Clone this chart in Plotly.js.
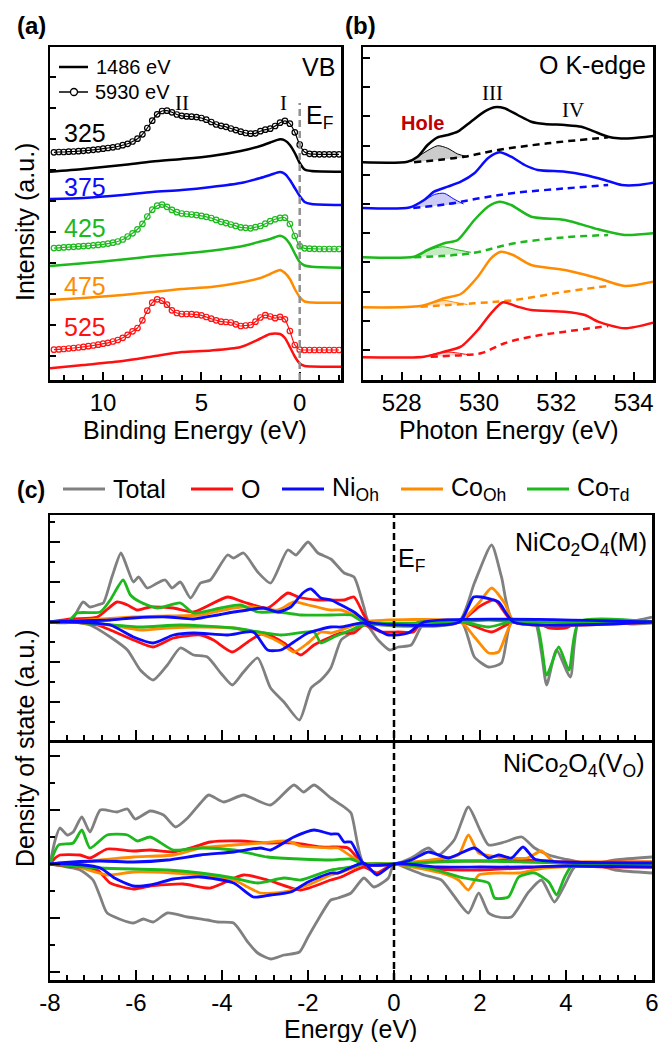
<!DOCTYPE html>
<html><head><meta charset="utf-8">
<script src="https://cdn.plot.ly/plotly-3.0.1.min.js"></script>
<style>html,body{margin:0;padding:0;background:#fff;}#chart{width:659px;height:1042px;}</style>
</head><body><div id="chart"></div>
<script>
// ---------- Panel (a): valence band spectra ----------
const aE_1486 = [12.7, 11, 9, 7.5, 6, 4.5, 3, 2, 1.5, 1.0, 0.75, 0.5, 0.25, 0, -0.25, -0.6, -2.1];
const aI_325_1486 = [208.3, 211, 215, 218.5, 221, 224, 229, 234, 237.5, 240.7, 239.5, 235, 227, 217, 210.5, 209, 208.3];
const aI_375_1486 = [181, 182, 185, 188, 190, 193, 197, 202, 205, 208, 206, 200, 192, 184, 178, 176, 175];
const aI_425_1486 = [114, 116.7, 120.5, 123.7, 126.3, 129.3, 133.5, 138.5, 141, 144.3, 142, 136, 126.5, 118, 114.5, 113.3, 112.3];
const aI_475_1486 = [80, 82, 85, 88, 91, 93, 97.5, 102, 106, 110, 107, 101, 91, 83, 78.5, 77.5, 77.3];
const aI_525_1486 = [11.7, 15, 19, 23.5, 28, 29.5, 33, 41.5, 46, 46, 42, 33, 23.5, 16.5, 14, 13.5, 13.3];

const aE_5930 = [12.5,12.25,12,11.75,11.5,11.25,11,10.75,10.5,10.25,10,9.75,9.5,9.25,9,8.75,8.5,8.25,8,7.75,7.5,7.25,7,6.75,6.5,6.25,6,5.75,5.5,5.25,5,4.75,4.5,4.25,4,3.75,3.5,3.25,3,2.75,2.5,2.25,2,1.75,1.5,1.25,1,0.75,0.5,0.25,0,-0.25,-0.5,-0.75,-1,-1.25,-1.5,-1.75,-2];
const aI_325_5930 = [227.7,228,228,228.3,228.5,228.8,229.2,229.7,230.2,230.7,231.3,232,232.7,233.5,234.8,236.2,238.5,241.3,245.7,252,259.3,265.7,269,269.3,267.7,265.5,264.2,263.6,263.3,262.9,262,260.3,258,255.5,254.2,253.2,251.5,249.9,248.3,247,246.3,246.7,248.8,250.3,251.3,254,257.3,259.2,256.3,247.7,235.3,228,226.2,225.8,225.7,225.7,225.7,225.7,225.7];
const aI_425_5930 = [131.9,132.2,132.6,132.9,133.2,133.6,133.9,134.2,134.7,135.1,135.7,136.4,137.3,138.5,140.5,143.5,146.7,150.7,156.1,163.5,170.3,174.3,175.4,173.2,170.1,167.8,166.5,166,165.5,164.9,164.1,163.2,162,160.1,158.2,156.9,155.5,154.1,152.6,152.2,151.7,152.8,154,156.3,158.8,160.7,162.1,162.3,156,144,133.8,131.7,131.3,131.2,131,131,131,131,131];
const aI_525_5930 = [30.3,30.6,31,31.5,32,32.5,33.1,33.8,34.5,35.3,36.3,37.2,38.5,40,42.2,45.2,48.7,52,59.7,69.3,77.3,80.7,79.3,75.3,69.7,67,66,66,65.9,65.3,64.7,63,61.3,59.7,58.3,58,57.5,55.7,54,54.5,55,58.3,62.5,64.8,63.5,61.8,63.2,60.7,49,35,30.3,30,30,30,30,30,30,30,30];
const aTemps = ['325', '375', '425', '475', '525'];

// ---------- Panel (b): O K-edge ----------
const bE_black = [527.0, 528.15, 528.41, 528.67, 528.93, 529.19, 529.45, 529.79, 530.14, 530.40, 530.66, 531.0, 531.35, 531.70, 532.22, 532.65, 532.99, 533.34, 533.60, 533.95, 534.51];
const bI_black = [217.7, 218.3, 223.3, 235, 242.7, 245, 248.3, 258.3, 268.3, 272.7, 271.7, 265, 258.3, 256, 255, 253.3, 248.3, 243.3, 241.7, 241.7, 244];
const bE_black_bg = [528.32, 529.62, 530.49, 531.78, 533.34];
const bI_black_bg = [217.7, 223.3, 230, 236.7, 242.7];
const bE_black_hole = [528.23, 528.58, 528.93, 529.19, 529.45, 529.71];
const bI_black_hole = [218.3, 227.3, 234.3, 231.7, 226, 223.3];
const bI_black_hole_base = [217.8, 218.8, 220, 221, 222, 223.3];

const bE_blue = [527.0, 528.2, 528.58, 528.84, 529.19, 529.53, 529.88, 530.23, 530.53, 530.83, 531.18, 531.52, 532.22, 532.74, 533.25, 533.69, 534.12, 534.51];
const bI_blue = [172, 172.5, 180, 188.3, 193.3, 198.3, 206.7, 221.7, 227.7, 223.3, 215, 210, 208.3, 205, 200, 195, 195, 197.3];
const bE_blue_bg = [528.3, 529.2, 530.05, 530.9, 532.2, 533.34];
const bI_blue_bg = [172, 176, 182, 187, 191.5, 195];
const bE_blue_hole = [528.25, 528.6, 528.85, 529.1, 529.35, 529.6];
const bI_blue_hole = [173, 180, 185.5, 186.7, 181, 176];
const bI_blue_hole_base = [172.5, 173.3, 174, 174.8, 175.5, 176.3];

const bE_green = [527.0, 528.32, 528.67, 529.10, 529.45, 529.88, 530.23, 530.53, 530.83, 531.35, 532.22, 533.08, 533.77, 534.51];
const bI_green = [122.7, 123.3, 130, 136.7, 140, 160, 173.3, 178.3, 175, 163.3, 160, 150.7, 145, 146.7];
const bE_green_bg = [528.32, 529.79, 530.92, 532.22, 533.34];
const bI_green_bg = [122.7, 126.7, 136.7, 142.7, 145];
const bE_green_hole = [528.4, 528.7, 529.06, 529.4, 529.79];
const bI_green_hole = [123.3, 130, 133.3, 130.5, 127.7];
const bI_green_hole_base = [123, 124, 125, 126, 126.7];

const bE_orange = [527.0, 528.49, 529.10, 529.53, 529.97, 530.31, 530.57, 530.88, 531.35, 532.22, 533.08, 533.77, 534.51];
const bI_orange = [72.7, 74, 81.7, 86, 103.3, 121.7, 128.3, 125, 115, 110, 101.7, 94, 98.3];
const bE_orange_bg = [528.49, 529.88, 530.92, 532.22, 533.34];
const bI_orange_bg = [73.3, 76.7, 80, 88.3, 94];
const bE_orange_hole = [528.5, 528.8, 529.1, 529.4, 529.7];
const bI_orange_hole = [74, 77, 79.5, 77.5, 75.5];
const bI_orange_hole_base = [73.5, 74.2, 74.8, 75.5, 76];

const bE_red = [527.0, 528.58, 529.1, 529.53, 529.97, 530.31, 530.62, 531.0, 531.35, 532.22, 532.74, 533.08, 533.77, 534.51];
const bI_red = [22.7, 23.3, 28.3, 33.3, 50, 66.7, 77.7, 73.3, 70, 68.3, 65, 58.3, 51.7, 57.3];
const bE_red_bg = [528.75, 529.62, 530.05, 530.66, 531.35, 532.22, 533.34];
const bI_red_bg = [23.3, 25, 26.7, 36.7, 43.3, 48.3, 54];
const bE_red_hole = [528.6, 528.9, 529.15, 529.45, 529.75];
const bI_red_hole = [23.5, 26.5, 28, 27, 25];
const bI_red_hole_base = [23.3, 23.6, 24, 24.8, 25.2];

// ---------- Panel (c): DOS, NiCo2O4(M) ----------
const mTotUpE = [-8,-7.53,-7.23,-7.07,-6.9,-6.76,-6.56,-6.35,-6.21,-6.06,-5.94,-5.74,-5.5,-5.32,-5.16,-4.97,-4.73,-4.5,-4.27,-3.87,-3.73,-3.5,-3.17,-2.87,-2.47,-2.28,-2.0,-1.77,-1.47,-1.16,-0.93,-0.7,-0.58,1.5,1.87,2.27,2.5,2.78,4.6,5.1,5.5,5.8,6.0];
const mTotUp  = [0,0,2.0,1.5,1.7,1.9,4.5,6.9,5.5,4.0,4.5,3.4,3.9,4.2,3.4,4.0,2.4,3.9,4.2,6.7,6.4,6.9,5.0,3.9,7.2,6.7,8.0,6.9,6.3,4.9,4.5,1.5,0,0,3.9,7.7,4.5,0,0,0.2,0.1,0.3,0.5];
const mTotDnE = [-8,-7.5,-7.07,-6.6,-6.2,-5.9,-5.6,-5.27,-4.97,-4.66,-4.34,-4.03,-3.76,-3.5,-3.17,-2.87,-2.56,-2.2,-1.93,-1.7,-1.47,-1.23,-1.0,-0.7,-0.37,-0.1,0.1,0.4,0.7,1.57,1.87,2.2,2.5,2.73,3.27,3.43,3.55,3.78,4.1,4.3,5.0,5.5,6.0];
const mTotDn  = [0,0,-0.3,-1.5,-2.8,-4.8,-5.8,-4.3,-2.6,-3.3,-3.5,-5.1,-6.3,-5.0,-3.6,-6.6,-8.0,-9.8,-6.6,-5.8,-4.6,-1.8,-1.1,0,-1.8,-2.8,-2.5,-2.3,-0.1,0,-3.5,-4.5,-4.1,0,0,-3.1,-6.3,-2.8,-5.5,0,0,-0.2,-0.1];
const mOUpE = [-8,-7.5,-6.9,-6.44,-6.2,-5.97,-5.67,-5.13,-4.66,-3.87,-3.5,-2.94,-2.47,-2.23,-1.77,-1.47,-1.16,-0.93,-0.7,-0.58,1.52,1.97,2.34,2.78,6.0];
const mOUp  = [0,0.3,0.5,2.0,1.7,1.2,1.5,1.4,1.0,2.5,2.0,1.4,2.9,2.5,2.2,2.2,2.2,2.5,0.7,0,0,1.5,2.2,0,0];
const mODnE = [-8,-7.5,-6.9,-6.6,-6.06,-5.6,-5.13,-4.5,-4.2,-3.76,-3.4,-3.03,-2.56,-2.17,-1.86,-1.47,-1.23,-0.93,-0.7,-0.3,0.1,0.45,0.65,1.6,2.27,2.75,3.3,3.6,4.0,4.3,6.0];
const mODn  = [0,0,-0.3,-0.8,-1.8,-2.5,-1.6,-1.3,-1.8,-3.0,-2.0,-1.1,-2.1,-3.3,-2.3,-1.5,-1.1,-1.1,-0.3,-1.0,-1.0,-1.0,0,0,-1.0,0,0,-0.6,-0.6,0,0];
const mNiUpE = [-8,-7.5,-6.6,-6.06,-5.27,-4.66,-4.1,-3.73,-3.4,-3.03,-2.7,-2.4,-2.12,-1.93,-1.7,-1.47,-1.23,-0.93,-0.6,1.52,1.85,2.03,2.43,2.78,6.0];
const mNiUp  = [0,0.1,0.2,0.4,0.5,0.3,0.7,1.0,1.2,1.4,1.0,1.5,2.9,3.3,2.4,2.2,1.7,1.0,0,0,2.5,2.5,2.0,0,0];
const mNiDnE = [-8,-7.5,-6.6,-6.06,-5.6,-5.13,-4.66,-3.87,-3.27,-2.94,-2.63,-2.33,-2.0,-1.47,-1.23,-0.7,-0.13,0.33,0.7,6.0];
const mNiDn  = [0,0,-0.3,-1.5,-2.1,-1.3,-1.1,-1.3,-1.0,-2.8,-2.8,-2.0,-1.1,-0.5,-0.5,-0.1,-1.3,-1.1,0,0];
const mCoOhUpE = [-8,-7.5,-6.06,-5.27,-4.5,-3.73,-3.27,-2.7,-2.33,-2.0,-1.7,-1.47,-1.23,-0.93,-0.6,1.5,1.97,2.27,2.57,2.8,6.0];
const mCoOhUp  = [0,0.1,0.5,0.6,0.7,1.4,1.5,1.2,2.0,1.7,1.4,1.2,1.2,0.7,0,0,1.9,3.4,1.9,0,0];
const mCoOhDnE = [-8,-7.5,-6.6,-5.9,-5.27,-4.5,-3.73,-3.03,-2.63,-2.33,-2.0,-1.7,-1.47,-1.23,-0.7,1.55,1.87,2.2,2.43,2.75,3.3,3.6,4.0,4.3,6.0];
const mCoOhDn  = [0,0,-0.3,-0.8,-0.6,-0.5,-0.6,-1.3,-2.1,-3.0,-2.1,-1.0,-1.1,-0.8,0,0,-1.5,-3.1,-3.0,0,0,-0.3,-0.3,0,0];
const mCoTdUpE = [-8,-7.6,-7.37,-6.83,-6.6,-6.3,-6.13,-5.9,-5.5,-4.97,-4.66,-4.03,-3.57,-3.17,-2.7,-2.17,-1.47,-1.0,-0.7,1.5,2.2,2.8,6.0];
const mCoTdUp  = [0,0,0.9,1.0,2.2,4.2,2.7,2.0,1.4,1.9,0.9,1.4,1.7,1.0,1.0,0.7,0.7,0.7,0,0,0.2,0,0];
const mCoTdDnE = [-8,-7.6,-6.83,-5.9,-4.97,-3.73,-2.63,-1.86,-1.7,-1.4,-1.0,-0.7,0.4,0.6,1.6,2.2,2.7,3.3,3.55,3.83,4.07,4.3,6.0];
const mCoTdDn  = [0,0,-0.2,-0.5,-0.3,-0.6,-1.3,-1.0,-2.1,-1.5,-0.8,-0.3,-0.3,0,0,-0.5,0,0,-5.3,-2.5,-4.8,0,0];

// ---------- Panel (c): DOS, NiCo2O4(VO) ----------
const vTotUpE = [-8,-7.88,-7.77,-7.6,-7.46,-7.26,-7.07,-6.83,-6.44,-6.2,-6.02,-5.67,-5.36,-5.08,-4.8,-4.5,-4.31,-3.96,-3.5,-2.87,-2.33,-2.1,-1.86,-1.47,-1.16,-1.0,-0.7,0.0,0.4,0.8,1.03,1.4,1.73,2.0,2.2,2.57,2.97,3.27,3.6,3.97,4.6,5.14,6.0];
const vTotUp  = [0,2.4,3.6,2.9,3.2,4.7,3.2,5.4,5.2,5.5,4.5,5.3,4.9,3.7,4.6,6.1,6.9,6.2,6.9,5.9,7.9,7.2,7.9,6.6,5.7,5.1,0,0,0.6,1.6,0.9,2.4,5.7,3.4,1.9,2.2,2.7,1.6,0.9,0.5,0,0.4,0.7];
const vTotDnE = [-8,-7.3,-7.0,-6.83,-6.67,-6.06,-5.83,-5.6,-5.27,-4.8,-4.34,-4.1,-3.73,-3.4,-3.17,-2.87,-2.56,-2.2,-2.0,-1.77,-1.47,-1.3,-1.0,-0.7,-0.47,-0.13,0.0,0.4,0.7,1.1,1.38,1.73,1.97,2.2,2.43,2.73,3.13,3.43,3.73,3.97,4.2,4.6,5.14,6.0];
const vTotDn  = [0,-0.6,-1.6,-3.3,-4.9,-5.9,-5.5,-5.8,-4.9,-5.3,-5.6,-5.8,-5.9,-7.8,-8.9,-9.5,-9.1,-8.8,-7.3,-5.6,-3.6,-3.4,-2.9,-1.4,-2.3,-1.4,0,-0.6,-1.1,-1.6,-3.1,-4.9,-2.9,-4.9,-5.3,-5.3,-2.8,-1.6,-3.8,-2.1,-0.3,0,-0.6,-0.9];
const vOUpE = [-8,-7.88,-7.77,-7.3,-7.07,-6.67,-6.06,-5.67,-5.13,-4.66,-4.27,-3.57,-2.94,-2.33,-1.7,-1.4,-1.07,-0.7,0,1.0,2.0,3.0,4.0,5.0,6.0];
const vOUp  = [0,0.6,0.9,0.9,0.6,1.5,1.3,1.4,1.2,1.7,2.2,2.3,2.1,2.1,1.7,1.7,1.6,0,0,0.3,0.3,0.4,0.2,0.2,0.2];
const vODnE = [-8,-7.6,-6.9,-6.6,-6.06,-5.67,-4.9,-4.27,-3.5,-2.94,-2.17,-1.47,-1.23,-0.7,-0.4,0,1.0,2.0,3.0,4.0,5.0,6.0];
const vODn  = [0,-0.2,-0.6,-1.9,-2.5,-2.2,-2.0,-2.4,-1.1,-1.6,-2.6,-1.6,-1.3,-0.3,-0.9,0,-0.5,-0.6,-0.4,-0.2,-0.3,-0.3];
const vNiUpE = [-8,-7.8,-6.83,-6.06,-5.27,-4.5,-3.73,-3.1,-2.87,-2.33,-1.86,-1.47,-1.3,-1.16,-1.0,-0.7,0,0.4,0.8,1.27,1.87,2.2,2.43,2.73,3.0,3.27,3.97,6.0];
const vNiUp  = [0,0.1,0.3,0.2,0.4,0.9,1.2,1.6,1.4,2.7,3.4,3.0,3.0,2.2,2.2,0,0,0.4,1.2,0.6,1.6,0.6,0.9,0.6,1.7,0.5,0.2,0.1];
const vNiDnE = [-8,-7.5,-6.83,-6.5,-6.06,-5.67,-5.13,-4.5,-3.73,-3.27,-2.87,-2.4,-2.0,-1.47,-1.3,-0.7,-0.4,0,1.0,2.0,3.0,4.0,6.0];
const vNiDn  = [0,0,-0.4,-1.4,-2.2,-2.1,-1.5,-1.3,-1.9,-3.3,-3.1,-2.8,-1.8,-0.9,-0.9,0.1,-1.1,0,-0.3,-0.3,-0.3,-0.2,-0.3];
const vCoOhUpE = [-8,-7.5,-6.83,-6.06,-5.13,-4.5,-3.73,-3.1,-2.47,-2.17,-1.47,-1.3,-0.7,0,1.2,1.5,1.73,1.97,2.43,3.1,3.43,3.7,4.5,6.0];
const vCoOhUp  = [0,0.1,0.4,0.7,0.9,1.6,1.9,2.1,2.3,1.8,1.6,1.6,0,0,0.6,0.9,2.9,1.1,0.7,0.6,1.3,0.3,0.2,0.2];
const vCoOhDnE = [-8,-7.5,-6.67,-6.06,-5.13,-4.5,-3.73,-3.1,-2.56,-2.0,-1.47,-1.2,-0.7,0,1.1,1.5,1.73,1.97,2.43,2.9,3.5,4.5,6.0];
const vCoOhDn  = [0,-0.1,-1.1,-0.8,-0.9,-1.1,-1.6,-2.9,-2.8,-2.1,-1.1,-0.8,0,0,-0.9,-1.6,-2.6,-1.1,-0.9,-0.9,-0.4,-0.2,-0.2];
const vCoTdUpE = [-8,-7.8,-7.46,-7.26,-7.07,-6.67,-6.2,-5.97,-5.67,-5.13,-4.5,-3.73,-2.94,-1.47,-1.0,-0.7,0,1.0,2.0,3.0,4.0,6.0];
const vCoTdUp  = [0,1.9,2.1,3.4,1.6,2.9,2.9,2.3,2.7,1.4,1.6,1.4,0.7,0.4,0.5,0,0,0.2,0.3,0.2,0.1,0.1];
const vCoTdDnE = [-8,-6.83,-5.27,-4.5,-3.73,-3.17,-2.56,-2.17,-1.47,-1.0,-0.7,0,0.8,1.63,2.2,2.34,2.66,2.9,3.27,3.6,3.78,3.97,4.13,4.4,6.0];
const vCoTdDn  = [0,-0.4,-0.6,-0.9,-1.4,-1.9,-1.4,-1.6,-0.6,-0.3,0,0,-0.4,-1.4,-1.9,-3.4,-3.3,-1.3,-0.9,-1.8,-3.1,-1.3,-0.2,0,0];

const cTicks = [-8, -6, -4, -2, 0, 2, 4, 6];
const cTickLabels = ['-8', '-6', '-4', '-2', '0', '2', '4', '6'];
const legendNames = ['Total', 'O', 'Ni<sub>Oh</sub>', 'Co<sub>Oh</sub>', 'Co<sub>Td</sub>'];

// ---------- styling ----------
const W = 659, H = 1042;
const px = x => x / W;
const py = y => 1 - y / H;
const FONT = 'Liberation Sans, Arial, sans-serif';
const SERIF = 'Liberation Serif, Times New Roman, serif';
const C = {black:'#000000', blue:'#0a0aff', green:'#1cb81c', orange:'#ff8c00', red:'#ff1010', gray:'#808080'};

const traces = [];
function line(x, y, xa, ya, color, width, extra) {
  const t = Object.assign({x:x, y:y, xaxis:xa, yaxis:ya, type:'scatter', mode:'lines',
    line:{color:color, width:width, shape:'spline', smoothing:0.7}, hoverinfo:'skip', showlegend:false}, extra || {});
  traces.push(t);
}
// Panel (a)
function circles(x, y, color) {
  traces.push({x:x, y:y, xaxis:'x', yaxis:'y', type:'scatter', mode:'lines+markers',
    line:{color:color, width:1.2, shape:'spline', smoothing:0.6},
    marker:{symbol:'circle-open', size:5.5, color:color, line:{width:1.2, color:color}},
    hoverinfo:'skip', showlegend:false});
}
circles(aE_5930, aI_325_5930, C.black);
line(aE_1486, aI_325_1486, 'x', 'y', C.black, 2.5);
line(aE_1486, aI_375_1486, 'x', 'y', C.blue, 2.5);
circles(aE_5930, aI_425_5930, C.green);
line(aE_1486, aI_425_1486, 'x', 'y', C.green, 2.5);
line(aE_1486, aI_475_1486, 'x', 'y', C.orange, 2.5);
circles(aE_5930, aI_525_5930, C.red);
line(aE_1486, aI_525_1486, 'x', 'y', C.red, 2.5);

// Panel (b)
function oK(E, I, Ebg, Ibg, Eh, Ih, Ihb, color, fill) {
  line(Eh, Ihb, 'x2', 'y2', 'rgba(0,0,0,0)', 0);
  line(Eh, Ih, 'x2', 'y2', color, 1, {fill:'tonexty', fillcolor:fill});
  line(Ebg, Ibg, 'x2', 'y2', color, 2.5, {line:{color:color, width:2.5, dash:'7px,5px', shape:'spline'}});
  line(E, I, 'x2', 'y2', color, 2.5);
}
oK(bE_black, bI_black, bE_black_bg, bI_black_bg, bE_black_hole, bI_black_hole, bI_black_hole_base, C.black, 'rgba(140,140,140,0.45)');
oK(bE_blue, bI_blue, bE_blue_bg, bI_blue_bg, bE_blue_hole, bI_blue_hole, bI_blue_hole_base, C.blue, 'rgba(110,110,230,0.35)');
oK(bE_green, bI_green, bE_green_bg, bI_green_bg, bE_green_hole, bI_green_hole, bI_green_hole_base, C.green, 'rgba(60,190,60,0.3)');
oK(bE_orange, bI_orange, bE_orange_bg, bI_orange_bg, bE_orange_hole, bI_orange_hole, bI_orange_hole_base, C.orange, 'rgba(255,160,60,0.3)');
oK(bE_red, bI_red, bE_red_bg, bI_red_bg, bE_red_hole, bI_red_hole, bI_red_hole_base, C.red, 'rgba(255,100,100,0.3)');

// Panel (c)
function dos(xa, ya, set) {
  set.forEach(s => line(s[0], s[1], xa, ya, s[2], 2.8, {line:{color:s[2], width:2.8, shape:'spline', smoothing:0.6}}));
}
dos('x3', 'y3', [
  [mTotUpE, mTotUp, C.gray], [mTotDnE, mTotDn, C.gray],
  [mOUpE, mOUp, C.red], [mODnE, mODn, C.red],
  [mCoOhUpE, mCoOhUp, C.orange], [mCoOhDnE, mCoOhDn, C.orange],
  [mCoTdUpE, mCoTdUp, C.green], [mCoTdDnE, mCoTdDn, C.green],
  [mNiUpE, mNiUp, C.blue], [mNiDnE, mNiDn, C.blue]]);
dos('x4', 'y4', [
  [vTotUpE, vTotUp, C.gray], [vTotDnE, vTotDn, C.gray],
  [vOUpE, vOUp, C.red], [vODnE, vODn, C.red],
  [vCoOhUpE, vCoOhUp, C.orange], [vCoOhDnE, vCoOhDn, C.orange],
  [vCoTdUpE, vCoTdUp, C.green], [vCoTdDnE, vCoTdDn, C.green],
  [vNiUpE, vNiUp, C.blue], [vNiDnE, vNiDn, C.blue]]);

const axBase = {showline:true, linecolor:'black', linewidth:2.5, mirror:true, showgrid:false, zeroline:false,
  ticks:'inside', tickcolor:'black', tickwidth:2, fixedrange:true, tickfont:{size:24, family:FONT, color:'black'}};
const ax = o => Object.assign({}, axBase, o);

const layout = {
  width:W, height:H, margin:{l:0, r:0, t:0, b:0}, paper_bgcolor:'white', plot_bgcolor:'white',
  showlegend:false, font:{family:FONT, color:'black', size:24},
  xaxis: ax({domain:[px(50), px(341)], range:[12.7, -2.1], anchor:'y', tick0:0, dtick:5, ticklen:8,
    minor:{tick0:0, dtick:1, ticks:'inside', ticklen:5, tickwidth:2, tickcolor:'black'}}),
  yaxis: ax({domain:[py(380), py(47)], range:[0, 333], anchor:'x', tick0:24, dtick:31, ticklen:6, showticklabels:false}),
  xaxis2: ax({domain:[px(363), px(653)], range:[527, 534.5], anchor:'y2', tick0:528, dtick:2, ticklen:8,
    minor:{tick0:528, dtick:0.5, ticks:'inside', ticklen:5, tickwidth:2, tickcolor:'black'}}),
  yaxis2: ax({domain:[py(380), py(47)], range:[0, 333], anchor:'x2', tick0:30, dtick:29.2, ticklen:7, showticklabels:false}),
  xaxis3: ax({domain:[px(50), px(652)], range:[-8, 6], anchor:'y3', tickmode:'array', tickvals:cTicks, showticklabels:false, ticklen:10,
    minor:{tickmode:'linear', tick0:-8, dtick:0.4, ticks:'inside', ticklen:5, tickwidth:2, tickcolor:'black'}}),
  yaxis3: ax({domain:[py(740), py(515)], range:[-11.8, 10.7], anchor:'x3', tick0:0, dtick:4, ticklen:10, showticklabels:false,
    minor:{tick0:0, dtick:2, ticks:'inside', ticklen:5, tickwidth:2, tickcolor:'black'}}),
  xaxis4: ax({domain:[px(50), px(652)], range:[-8, 6], anchor:'y4', mirror:false, tickmode:'array', tickvals:cTicks, ticktext:cTickLabels, ticklen:10,
    minor:{tickmode:'linear', tick0:-8, dtick:0.4, ticks:'inside', ticklen:5, tickwidth:2, tickcolor:'black'}}),
  yaxis4: ax({domain:[py(980), py(740)], range:[-11.6, 12.4], anchor:'x4', tick0:0, dtick:5.4, ticklen:10, showticklabels:false,
    minor:{tick0:0, dtick:2.7, ticks:'inside', ticklen:5, tickwidth:2, tickcolor:'black'}}),
  shapes: [],
  annotations: []
};

// E_F guide lines
layout.shapes.push({type:'line', xref:'x', yref:'y', x0:0, x1:0, y0:0, y1:277, line:{color:'#909090', width:2.5, dash:'7px,4px'}});
layout.shapes.push({type:'line', xref:'x4', yref:'paper', x0:0, x1:0, y0:py(980), y1:py(515), line:{color:'black', width:2.5, dash:'7px,4px'}});
// legend (a)
layout.shapes.push({type:'line', xref:'paper', yref:'paper', x0:px(59), x1:px(88), y0:py(67), y1:py(67), line:{color:'black', width:2.5}});
layout.shapes.push({type:'line', xref:'paper', yref:'paper', x0:px(59), x1:px(88), y0:py(92), y1:py(92), line:{color:'black', width:1.5}});
layout.shapes.push({type:'circle', xref:'paper', yref:'paper', x0:px(70.5), x1:px(77.5), y0:py(95.5), y1:py(88.5), fillcolor:'white', line:{color:'black', width:1.3}});
// legend (c)
const legColors = [C.gray, C.red, C.blue, C.orange, C.green];
const legX = [63, 191, 282, 401, 527];
legX.forEach((x, i) => {
  layout.shapes.push({type:'line', xref:'paper', yref:'paper', x0:px(x), x1:px(x + 42), y0:py(489), y1:py(489), line:{color:legColors[i], width:3}});
  layout.annotations.push({xref:'paper', yref:'paper', x:px(x + 48), y:py(489), text:legendNames[i], showarrow:false,
    xanchor:'left', yanchor:'middle', font:{size:25, family:FONT, color:'black'}});
});

function ann(text, x, y, opts) {
  layout.annotations.push(Object.assign({xref:'paper', yref:'paper', x:px(x), y:py(y), text:text, showarrow:false,
    xanchor:'center', yanchor:'middle', font:{size:25, family:FONT, color:'black'}}, opts || {}));
}
ann('<b>(a)</b>', 15, 25, {xanchor:'left', font:{size:24, family:FONT, color:'black'}});
ann('<b>(b)</b>', 343, 25, {xanchor:'left', font:{size:24, family:FONT, color:'black'}});
ann('<b>(c)</b>', 15, 490, {xanchor:'left', font:{size:23, family:FONT, color:'black'}});
ann('1486 eV', 94, 67, {xanchor:'left', font:{size:20, family:FONT, color:'black'}});
ann('5930 eV', 93, 92, {xanchor:'left', font:{size:20, family:FONT, color:'black'}});
ann('VB', 337, 67, {xanchor:'right'});
ann('E<sub>F</sub>', 304, 117, {xanchor:'left'});
ann('II', 182, 103, {font:{size:21, family:SERIF, color:'black'}});
ann('I', 283, 103, {font:{size:21, family:SERIF, color:'black'}});
const tempColors = [C.black, C.blue, C.green, C.orange, C.red];
const tempY = [133, 187, 228, 286, 327];
aTemps.forEach((t, i) => ann(t, 62, tempY[i], {xanchor:'left', font:{size:25, family:FONT, color:tempColors[i]}}));
ann('Intensity (a.u.)', 25, 222, {textangle:-90});
ann('Binding Energy (eV)', 195, 430);
ann('O K-edge', 648, 65, {xanchor:'right'});
ann('<b>Hole</b>', 423, 123, {font:{size:20, family:FONT, color:'#c00000'}});
ann('III', 493, 93, {font:{size:21, family:SERIF, color:'black'}});
ann('IV', 573, 110, {font:{size:21, family:SERIF, color:'black'}});
ann('Photon Energy (eV)', 509, 430);
ann('E<sub>F</sub>', 396, 560, {xanchor:'left'});
ann('NiCo<sub>2</sub>O<sub>4</sub>(M)', 649, 544, {xanchor:'right'});
ann('NiCo<sub>2</sub>O<sub>4</sub>(V<sub>O</sub>)', 646, 765, {xanchor:'right'});
ann('Density of state (a.u.)', 25, 748, {textangle:-90});
ann('Energy (eV)', 350, 1029);

Plotly.newPlot('chart', traces, layout, {staticPlot:true, displayModeBar:false});
</script></body></html>
